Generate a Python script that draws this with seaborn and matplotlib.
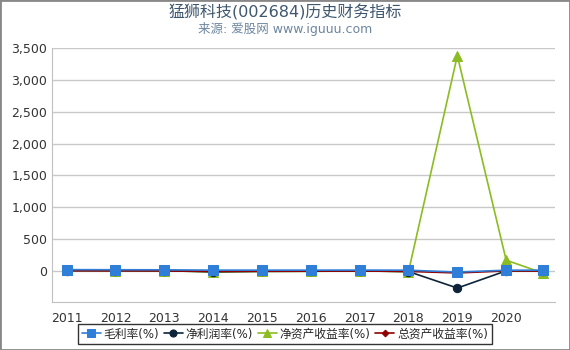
import seaborn as sns
import matplotlib.pyplot as plt
import pandas as pd
from matplotlib.ticker import FuncFormatter, FixedLocator
from matplotlib.patches import Rectangle

# dati
anni = [2011, 2012, 2013, 2014, 2015, 2016, 2017, 2018, 2019, 2020, 2020.75]
etichette = ['2011', '2012', '2013', '2014', '2015', '2016', '2017', '2018', '2019', '2020']
maolilv = [22, 20, 19, 14, 14, 14, 15, 13, -16, 13, 14]
jinglilv = [8, 6, 4, -12, -5, -3, 2, -8, -267, 3, 3]
roe = [10, 8, 6, -14, -6, -5, 2, -10, 3380, 170, -30]
roa = [5, 4, 3, -6, -3, -2, 1, -6, -30, 2, 1]

serie = ['毛利率(%)', '净利润率(%)', '净资产收益率(%)', '总资产收益率(%)']
valori = [maolilv, jinglilv, roe, roa]
colori = ['#2f7ed8', '#0d233a', '#8bbc21', '#910000']
marker = ['s', 'o', '^', 'D']
msize = [7, 6, 7, 4]
ordine = [5, 3, 2, 4]   # i quadrati blu stanno sopra

sns.set_style('white')
plt.rcParams['font.family'] = ['DejaVu Sans', 'Noto Sans CJK SC']

fig = plt.figure(figsize=(5.7, 3.5), dpi=100)
ax = fig.add_axes([52 / 570, 1 - 302 / 350, 503 / 570, 254 / 350])

for nome, v, c, m, s, z in zip(serie, valori, colori, marker, msize, ordine):
    df = pd.DataFrame({'anno': anni, 'valore': v})
    sns.lineplot(data=df, x='anno', y='valore', ax=ax, color=c, marker=m,
                 markersize=s, markeredgecolor=c, linewidth=1.2, label=nome, zorder=z)

ax.set_xlim(2010.7, 2021.0)
ax.set_ylim(-486, 3500)
ax.yaxis.set_major_locator(FixedLocator(range(0, 3501, 500)))
ax.yaxis.set_major_formatter(FuncFormatter(lambda x, p: f'{int(x):,}'))
ax.set_xticks(anni[:10])
ax.set_xticklabels(etichette)
ax.grid(axis='y', color='#c8c8c8', linewidth=1)
ax.set_xlabel('')
ax.set_ylabel('')
for lato in ['top', 'right']:
    ax.spines[lato].set_visible(False)
ax.spines['left'].set_color('#c0c0c0')
ax.spines['bottom'].set_color('#c0c0c0')
ax.tick_params(axis='both', labelsize=9, colors='#333333', length=4, color='#c0c0c0')
ax.tick_params(axis='y', length=0)
for t in ax.get_xticklabels() + ax.get_yticklabels():
    t.set_color('#333333')

leg = ax.legend(loc='center', bbox_to_anchor=(0.5, 1 - 334 / 350),
                bbox_transform=fig.transFigure, ncol=4, fontsize=8.5,
                frameon=True, fancybox=False, edgecolor='black', handlelength=1.6,
                handletextpad=0.25, columnspacing=0.4, borderpad=0.3, markerscale=0.85)
leg.get_frame().set_linewidth(1)

fig.text(0.5, 1 - 12 / 350, '猛狮科技(002684)历史财务指标', ha='center', va='center',
         fontsize=11.5, color='#3e576f')
fig.text(0.5, 1 - 29 / 350, '来源: 爱股网 www.iguuu.com', ha='center', va='center',
         fontsize=9, color='#6d869f')

fig.patches.append(Rectangle((0, 0), 1, 1, transform=fig.transFigure, fill=False,
                             edgecolor='#888888', linewidth=2))

fig.savefig('out.png', dpi=100)
